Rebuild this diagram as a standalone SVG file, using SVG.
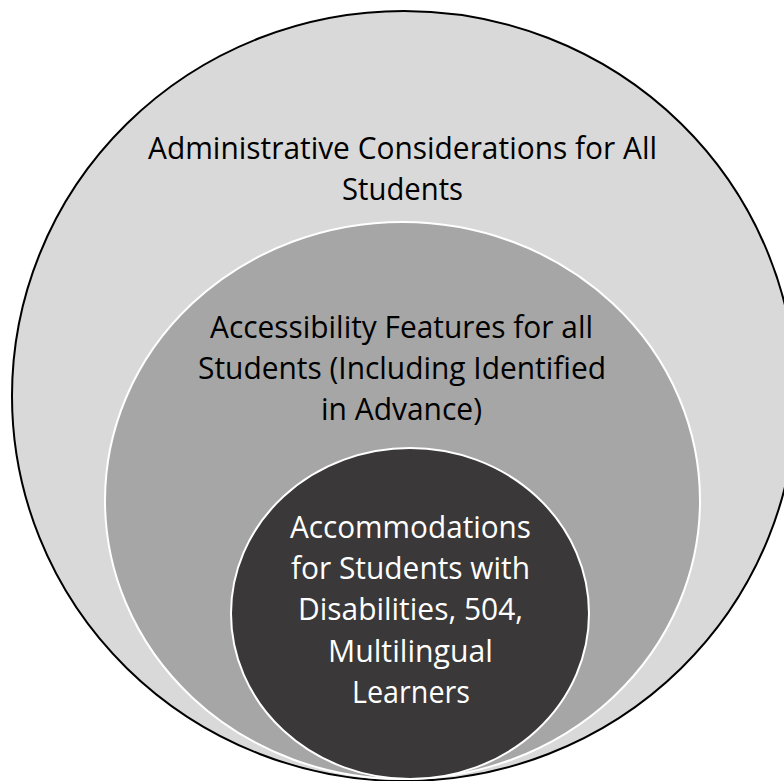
<svg xmlns="http://www.w3.org/2000/svg" width="784" height="781" viewBox="0 0 784 781">
<style>
.t{font-family:"Open Sans","Noto Sans","Liberation Sans",sans-serif;font-size:30.5px;text-anchor:middle}
.dark{fill:#000}
.light{fill:#fff}
</style>
<rect width="784" height="781" fill="#fff"/>
<g id="outer">
<ellipse cx="404" cy="396" rx="392" ry="385" fill="#d9d9d9" stroke="#000" stroke-width="2"/>
<text class="t dark" x="402.5" y="159" textLength="509" lengthAdjust="spacingAndGlyphs">Administrative Considerations for All</text>
<text class="t dark" x="402.5" y="200" textLength="121" lengthAdjust="spacingAndGlyphs">Students</text>
</g>
<g id="middle">
<ellipse cx="402.5" cy="500.5" rx="297.5" ry="278.5" fill="#a6a6a6" stroke="#fff" stroke-width="2"/>
<text class="t dark" x="401.5" y="338" textLength="383" lengthAdjust="spacingAndGlyphs">Accessibility Features for all</text>
<text class="t dark" x="402" y="379" textLength="408" lengthAdjust="spacingAndGlyphs">Students (Including Identified</text>
<text class="t dark" x="401.5" y="420" textLength="161" lengthAdjust="spacingAndGlyphs">in Advance)</text>
</g>
<g id="inner">
<ellipse cx="410" cy="613.5" rx="179" ry="165.5" fill="#3a3838" stroke="#fff" stroke-width="2"/>
<text class="t light" x="410.5" y="538" textLength="241" lengthAdjust="spacingAndGlyphs">Accommodations</text>
<text class="t light" x="410.5" y="579" textLength="239" lengthAdjust="spacingAndGlyphs">for Students with</text>
<text class="t light" x="410.5" y="620" textLength="225" lengthAdjust="spacingAndGlyphs">Disabilities, 504,</text>
<text class="t light" x="410.5" y="662" textLength="165" lengthAdjust="spacingAndGlyphs">Multilingual</text>
<text class="t light" x="411" y="703" textLength="118" lengthAdjust="spacingAndGlyphs">Learners</text>
</g>
<g id="connectors"/>
</svg>
